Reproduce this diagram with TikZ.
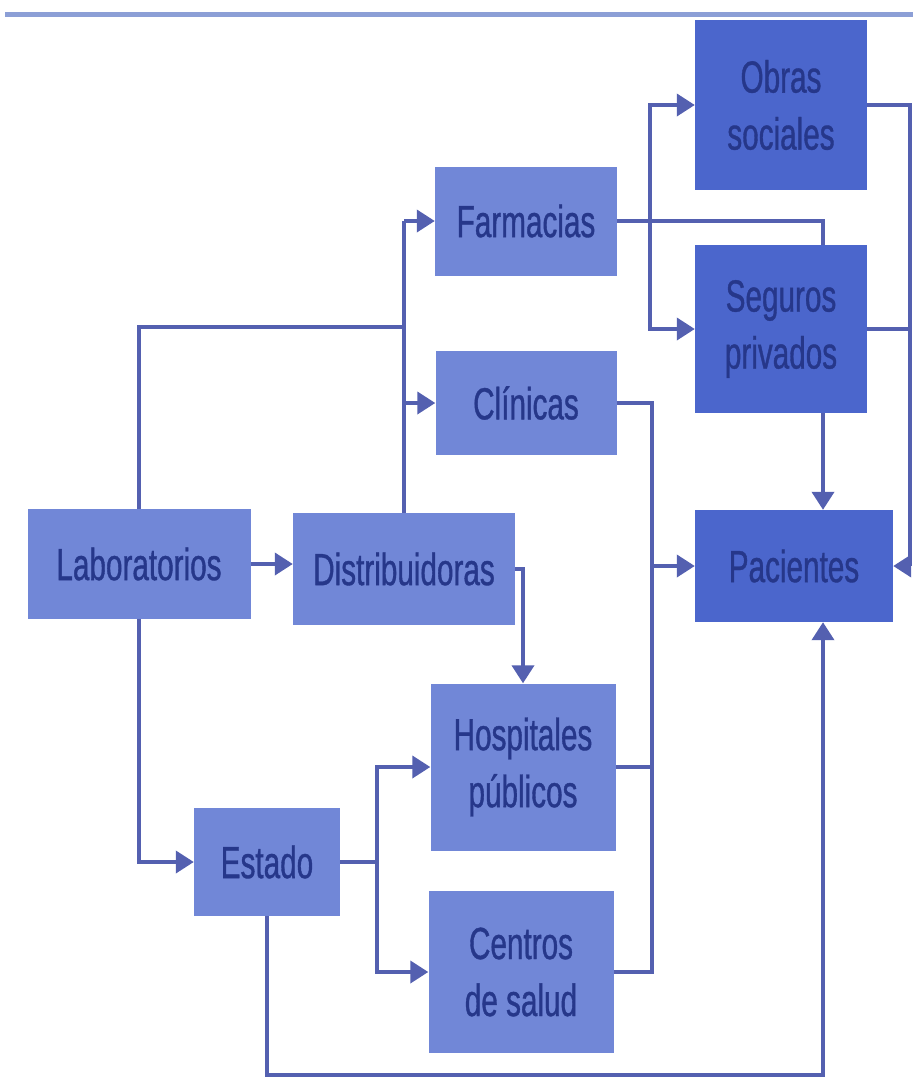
\documentclass[tikz,border=0pt]{standalone}
\usepackage{fontspec}
\setmainfont{Liberation Sans}[FakeStretch=0.66,FakeBold=0.8]
\usetikzlibrary{arrows.meta,calc}
\pgfdeclarelayer{canvas}
\pgfdeclarelayer{background}
\pgfsetlayers{canvas,background,main}
\definecolor{boxlight}{HTML}{7187D7}
\definecolor{boxdark}{HTML}{4B66CC}
\definecolor{txtblue}{HTML}{26378A}
\definecolor{linkblue}{HTML}{5460B0}
\definecolor{rulecol}{HTML}{8C9FD6}
\tikzset{
  base/.style={inner sep=0pt, text=txtblue, align=center,
    font=\fontsize{45}{57}\selectfont},
  lightbox/.style={base, fill=boxlight},
  darkbox/.style={base, fill=boxdark},
  link/.style={draw=linkblue, line width=3.8pt},
  arr/.style={link, -{Triangle[length=18pt,width=22pt]}},
}
\begin{document}
\begin{tikzpicture}[x=1pt,y=-1pt]
\useasboundingbox (0,0) rectangle (913,1079);
\begin{pgfonlayer}{canvas}
\fill[white] (0,0) rectangle (913,1079);
% rule along the top
\draw[rulecol, line width=5pt] (5,14) -- (913,14);
\end{pgfonlayer}

% boxes
\node[darkbox, minimum width=172pt, minimum height=170pt] (obras) at (781,105) {Obras\\sociales};
\node[lightbox, minimum width=182pt, minimum height=109pt] (farm) at (526,221) {Farmacias};
\node[darkbox, minimum width=172pt, minimum height=168pt] (seg) at (781,329) {Seguros\\privados};
\node[lightbox, minimum width=181pt, minimum height=104pt] (clin) at (526,403) {Clínicas};
\node[lightbox, minimum width=223pt, minimum height=110pt] (lab) at (139,564) {Laboratorios};
\node[lightbox, minimum width=222pt, minimum height=112pt] (dist) at (404,569) {Distribuidoras};
\node[darkbox, minimum width=198pt, minimum height=112pt] (pac) at (794,566) {Pacientes};
\node[lightbox, minimum width=185pt, minimum height=167pt] (hosp) at (523,767) {Hospitales\\públicos};
\node[lightbox, minimum width=146pt, minimum height=108pt] (estado) at (267,862) {Estado};
\node[lightbox, minimum width=185pt, minimum height=162pt] (centros) at (521,972) {Centros\\de salud};

% junction points
\coordinate (pacT) at ([xshift=29pt]pac.north);
\coordinate (pacB) at ([xshift=29pt]pac.south);
\coordinate (fj) at (650,221);
\coordinate (lbus) at (652,566);
\coordinate (rbus) at (910,566);
\path (estado.east) ++(37,0) coordinate (ej);

\begin{pgfonlayer}{background}
% laboratorios and distribuidoras
\draw[arr] (lab.east) -- (dist.west |- lab.east);
\draw[link] (lab.north) |- (dist.north |- 0,327);
\draw[link] (dist.north) -- (dist.north |- farm.west);
\draw[arr] (dist.north |- farm.west) -- (farm.west);
\draw[arr] (dist.north |- clin.west) -- (clin.west);
\draw[arr] (dist.east) -| (hosp.north);
\draw[arr] (lab.south) |- (estado.west);
% estado
\draw[link] (estado.east) -- (ej);
\draw[arr] (ej) |- (hosp.west);
\draw[arr] (ej) |- (centros.west);
\draw[arr] (estado.south) |- (pacB |- 0,1075) -- (pacB);
% farmacias
\draw[arr] (farm.east) -| (pacT);
\draw[arr] (fj) |- (obras.west);
\draw[arr] (fj) |- (seg.west);
% providers to pacientes
\draw[link] (clin.east) -| (lbus);
\draw[link] (hosp.east) -| (lbus);
\draw[link] (centros.east) -| (lbus);
\draw[arr] (lbus) -- (pac.west);
% payers to pacientes
\draw[link] (obras.east) -| (rbus);
\draw[link] (seg.east) -| (rbus);
\draw[arr] (rbus) -- (pac.east);
\end{pgfonlayer}
\end{tikzpicture}
\end{document}
